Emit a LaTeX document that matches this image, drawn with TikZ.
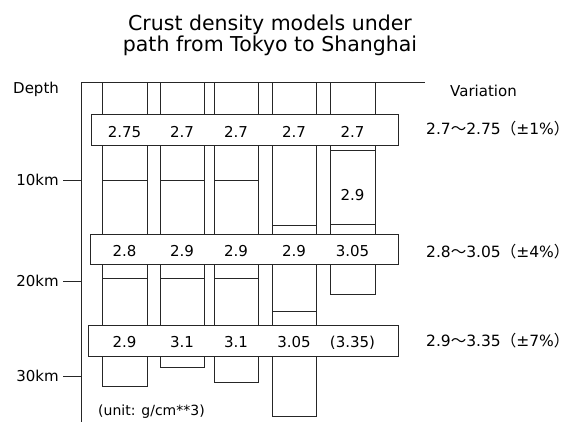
\documentclass[tikz,border=0pt]{standalone}
\usepackage{fontspec}
\setmainfont{DejaVu Sans}
\newfontfamily\cjk{Noto Sans CJK JP}
\usetikzlibrary{positioning}
\tikzset{
  col/.style = {draw=black!85, line width=0.7pt},
  band/.style = {rectangle, draw=black!85, fill=white, line width=0.7pt, inner sep=0pt},
  val/.style = {anchor=base, font=\fontsize{15}{18}\selectfont, inner sep=0pt},
  lbl/.style = {anchor=base west, font=\fontsize{15}{18}\selectfont, inner sep=0pt},
  km/.style = {font=\fontsize{15}{18}\selectfont, inner sep=0pt},
  tick/.style = {draw=black!85, line width=0.7pt}
}

\begin{document}
\begin{tikzpicture}[x=1pt, y=-1pt]
\useasboundingbox (0,0) rectangle (571,422);

% Title
\node[anchor=north, align=center, inner sep=0pt, font=\fontsize{20.5}{18}\selectfont] (title) at (270,14.5)
  {Crust density models under\\path from Tokyo to Shanghai};

% Depth axis
\coordinate (ax0) at (81,82);
\coordinate (ax1) at (81,422);
\coordinate (ax2) at (425,82);
\draw[col] (ax1) -- (ax0) -- (ax2);

\node[lbl] (depth) at (13,94) {Depth};
\node[lbl] (varh)  at (450,97) {Variation};

% Ticks
\coordinate (a10) at (81,180);
\coordinate (a20) at (81,281);
\coordinate (a30) at (81,376);
\node[km, left=22pt of a10] (k10) {10km};
\node[km, left=22pt of a20] (k20) {20km};
\node[km, left=22pt of a30] (k30) {30km};
\draw[tick] ([xshift=4pt]k10.east) -- (a10);
\draw[tick] ([xshift=4pt]k20.east) -- (a20);
\draw[tick] ([xshift=4pt]k30.east) -- (a30);

% Columns (one per model)
\draw[col] (102,82) rectangle (147,386);
\draw[col] (102,180) -- (147,180);
\draw[col] (102,278) -- (147,278);

\draw[col, line width=1pt] (160,83) rectangle (204,368);
\draw[col] (160,180) -- (204,180);
\draw[col] (160,278) -- (204,278);

\draw[col] (214,82) rectangle (258,382);
\draw[col] (214,180) -- (258,180);
\draw[col] (214,278) -- (258,278);

\draw[col] (272,82) rectangle (316,416);
\draw[col] (272,225) -- (316,225);
\draw[col] (272,311) -- (316,311);

\draw[col] (330,82) rectangle (375,294);
\draw[col] (330,150) -- (375,150);
\draw[col] (330,224) -- (375,224);
\node[val] (v5x) at (352.5,201) {2.9};

% Band 1 (upper crust)
\node[band, minimum width=307pt, minimum height=31pt] (b1) at (244.5,129.5) {};
\node[val] (v1a) at (124.5,138) {2.75};
\node[val] (v1b) at (182,138) {2.7};
\node[val] (v1c) at (236,138) {2.7};
\node[val] (v1d) at (294,138) {2.7};
\node[val] (v1e) at (352.5,138) {2.7};

% Band 2 (middle crust)
\node[band, minimum width=308pt, minimum height=30pt] (b2) at (244,249) {};
\node[val] (v2a) at (124.5,257) {2.8};
\node[val] (v2b) at (182,257) {2.9};
\node[val] (v2c) at (236,257) {2.9};
\node[val] (v2d) at (294,257) {2.9};
\node[val] (v2e) at (352.5,257) {3.05};

% Band 3 (lower crust)
\node[band, minimum width=310pt, minimum height=31pt] (b3) at (243,340.5) {};
\node[val] (v3a) at (124.5,348) {2.9};
\node[val] (v3b) at (182,348) {3.1};
\node[val] (v3c) at (236,348) {3.1};
\node[val] (v3d) at (294,348) {3.05};
\node[val] (v3e) at (352.5,348) {(3.35)};

% Variation per band
\node[lbl, font=\fontsize{15.5}{18}\selectfont] (var1) at (426,135) {2.7{\cjk ～}2.75{\cjk （}±1\%{\cjk ）}};
\node[lbl, font=\fontsize{15.5}{18}\selectfont] (var2) at (426,258) {2.8{\cjk ～}3.05{\cjk （}±4\%{\cjk ）}};
\node[lbl, font=\fontsize{15.5}{18}\selectfont] (var3) at (426,347) {2.9{\cjk ～}3.35{\cjk （}±7\%{\cjk ）}};

\node[lbl, font=\fontsize{14}{17}\selectfont] (unit) at (98,415) {(unit: g/cm**3)};

\end{tikzpicture}
\end{document}
